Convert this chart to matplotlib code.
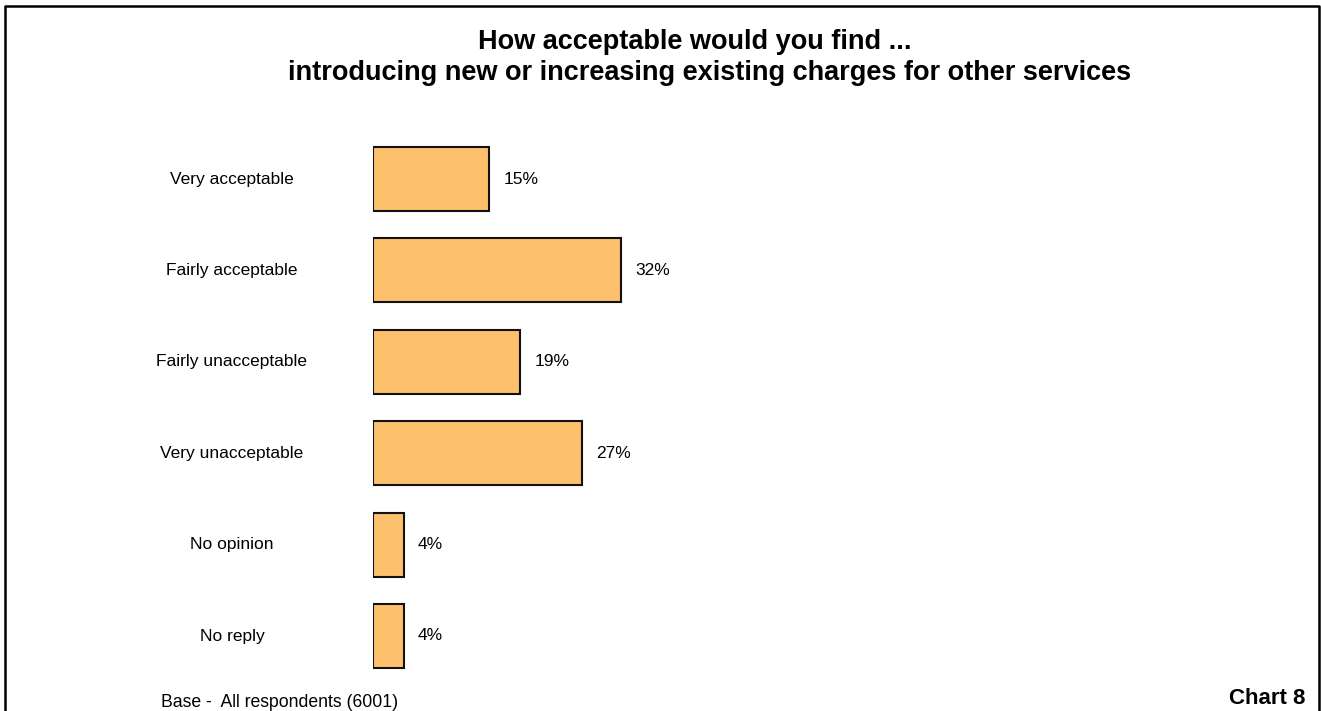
import matplotlib.pyplot as plt
import matplotlib.transforms as mtransforms
from matplotlib.lines import Line2D

plt.rcParams['font.family'] = ['Liberation Sans', 'DejaVu Sans']

# data
categories = ['Very acceptable', 'Fairly acceptable', 'Fairly unacceptable',
              'Very unacceptable', 'No opinion', 'No reply']
percent = [15, 32, 19, 27, 4, 4]

W, H = 1321, 711
fig = plt.figure(figsize=(W / 100, H / 100), dpi=100)

def fx(px):
    return px / W

def fy(py):
    return 1 - py / H

# axes placed so 0% sits at x=373px and each percent is ~7.75px
ax = fig.add_axes([fx(373), fy(681.7), 775 / W, 548.4 / H])
ypos = list(range(len(categories)))
ax.barh(ypos, percent, height=0.7, color='#FDC06C', edgecolor='#111111', linewidth=1.5)
ax.set_xlim(0, 100)
ax.set_ylim(len(categories) - 0.5, -0.5)
ax.axis('off')

for y, v in zip(ypos, percent):
    ax.annotate(f'{v}%', (v, y), xytext=(14, 0), textcoords='offset pixels',
                va='center', ha='left', fontsize=12.5)

trans = mtransforms.blended_transform_factory(fig.transFigure, ax.transData)
for y, name in zip(ypos, categories):
    ax.text(fx(232), y, name, transform=trans, ha='center', va='center', fontsize=12.5)

# titles
fig.text(fx(695), fy(49), 'How acceptable would you find ...', ha='center', va='baseline',
         fontsize=19.5, fontweight='bold')
fig.text(fx(710), fy(80), 'introducing new or increasing existing charges for other services',
         ha='center', va='baseline', fontsize=19.5, fontweight='bold')

fig.text(fx(161), fy(707), 'Base -  All respondents (6001)', ha='left', va='baseline', fontsize=12.7)
fig.text(fx(1305), fy(704), 'Chart 8', ha='right', va='baseline', fontsize=16, fontweight='bold')

# frame around the chart (open at the bottom)
fig.add_artist(Line2D([fx(5), fx(5), fx(1319), fx(1319)], [0, fy(6), fy(6), 0],
                      transform=fig.transFigure, color='black', linewidth=1.8))

fig.savefig('out.png', dpi=100)
